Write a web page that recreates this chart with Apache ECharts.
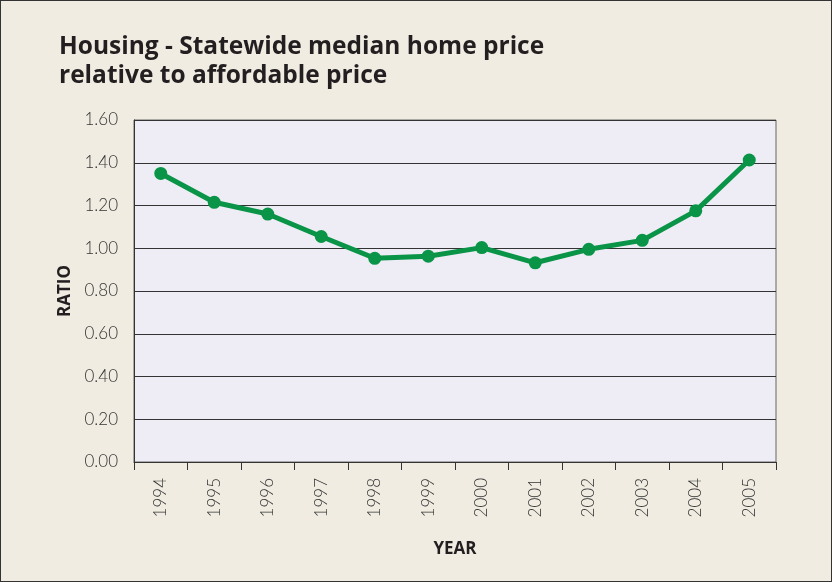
<!DOCTYPE html>
<html>
<head>
<meta charset="utf-8">
<script src="https://cdn.jsdelivr.net/npm/echarts@6/dist/echarts.min.js"></script>
<style>
  html, body { margin: 0; padding: 0; background: #f0ece2; }
  #chart { width: 832px; height: 582px; box-sizing: border-box; border: 1px solid #333; }
</style>
</head>
<body>
<div id="chart"></div>
<script>
// data
const years = ['1994','1995','1996','1997','1998','1999','2000','2001','2002','2003','2004','2005']
const ratio = [1.35, 1.215, 1.16, 1.055, 0.953, 0.963, 1.003, 0.932, 0.995, 1.037, 1.175, 1.413]
const titleLines = ['Housing - Statewide median home price', 'relative to affordable price']

const myChart = echarts.init(document.getElementById('chart'))

myChart.setOption({
  backgroundColor: '#f0ece2',
  animation: false,
  title: {
    text: titleLines.join('\n'),
    left: 53,
    top: 27,
    textStyle: {
      fontFamily: 'Open Sans',
      fontSize: 24.5,
      fontWeight: 'bold',
      color: '#231f20',
      lineHeight: 29
    }
  },
  grid: {
    left: 133,
    right: 55,
    top: 119,
    bottom: 119,
    show: true,
    backgroundColor: '#eeedf6',
    borderColor: '#666',
    borderWidth: 1
  },
  xAxis: {
    type: 'category',
    data: years,
    name: 'YEAR',
    nameLocation: 'middle',
    nameGap: 79,
    nameTextStyle: { fontFamily: 'Open Sans', fontWeight: 'bold', fontSize: 17, color: '#231f20' },
    axisLine: { lineStyle: { color: '#333', width: 1 } },
    axisTick: { show: true, length: 8, lineStyle: { color: '#333' } },
    axisLabel: {
      rotate: 90,
      margin: 16,
      fontFamily: 'Lato',
      fontWeight: 300,
      fontSize: 17,
      color: '#333'
    }
  },
  yAxis: {
    type: 'value',
    min: 0,
    max: 1.6,
    interval: 0.2,
    name: 'RATIO',
    nameLocation: 'middle',
    nameGap: 60,
    nameRotate: 90,
    nameTextStyle: { fontFamily: 'Open Sans', fontWeight: 'bold', fontSize: 17, color: '#231f20' },
    axisLine: { show: true, lineStyle: { color: '#333' } },
    axisTick: { show: false },
    splitLine: { lineStyle: { color: '#333', width: 1 } },
    axisLabel: {
      margin: 16,
      fontFamily: 'Lato',
      fontWeight: 300,
      fontSize: 17,
      color: '#333',
      formatter: v => v.toFixed(2)
    }
  },
  series: [{
    type: 'line',
    data: ratio,
    symbol: 'circle',
    symbolSize: 13,
    lineStyle: { color: '#0a9447', width: 5 },
    itemStyle: { color: '#0a9447' }
  }]
})
</script>
</body>
</html>
